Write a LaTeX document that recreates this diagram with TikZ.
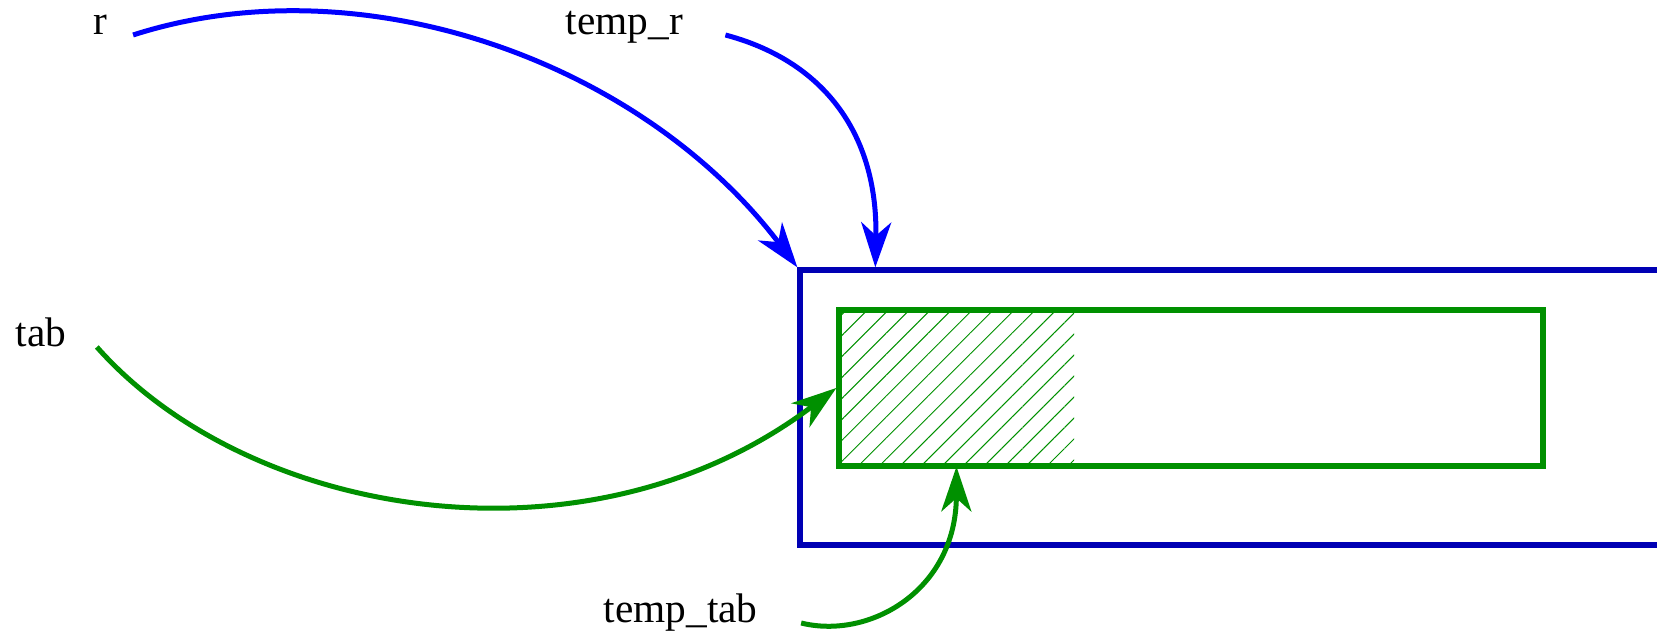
\documentclass[tikz,border=0pt]{standalone}
\usepackage{fontspec}
\setmainfont{Liberation Serif}
\usepackage{xcolor}
\usetikzlibrary{arrows.meta, patterns.meta}
\definecolor{ptrblue}{HTML}{0000FF}
\definecolor{memblue}{HTML}{0000B4}
\definecolor{tabgreen}{HTML}{009000}

\begin{document}
\begin{tikzpicture}[
    x=0.3pt, y=-0.3pt,
    varname/.style={anchor=base west, inner sep=0pt, font=\fontsize{12.4pt}{14pt}\selectfont},
    membox/.style={rectangle, draw=memblue, line width=1.6pt, minimum width=264pt, minimum height=82.5pt, inner sep=0pt},
    tabbox/.style={rectangle, draw=tabgreen, line width=1.6pt, minimum width=211.2pt, minimum height=46.8pt, inner sep=0pt},
    usedpart/.style={rectangle, pattern={Lines[angle=45, distance=4.45pt, line width=0.3pt]}, pattern color=tabgreen, minimum width=70.5pt, minimum height=46.8pt, inner sep=0pt},
    blueptr/.style={-{Stealth[length=13.5pt, width=9pt, inset=4pt]}, line width=1.5pt, color=ptrblue},
    greenptr/.style={-{Stealth[length=13.5pt, width=9pt, inset=4pt]}, line width=1.5pt, color=tabgreen}
]
\useasboundingbox (0,0) rectangle (1657,632);

% memory blocks
\node[membox] (outer) at (1240,407.5) {};
\node[usedpart] (hatch) at (956.5,388) {};
\node[tabbox] (inner) at (1191,388) {};

% variable names
\node[varname] (r) at (93,35) {r};
\node[varname] (tempr) at (565,35) {temp\_r};
\node[varname] (tab) at (15,347) {tab};
\node[varname] (temptab) at (603,623) {temp\_tab};

% pointers
\draw[blueptr] ([xshift=7.5pt]r.base east) .. controls (360,-38) and (640,60) .. (outer.north west);
\draw[blueptr] ([xshift=12.6pt]tempr.base east) .. controls (820,60) and (878,130) .. ([xshift=23.4pt]outer.north west);
\draw[greenptr] ([xshift=9pt]tab.base east) .. controls (250,520) and (590,575) .. (inner.west);
\draw[greenptr] ([xshift=12.9pt]temptab.base east) .. controls (870,640) and (956,590) .. (hatch.south);

\end{tikzpicture}
\end{document}
